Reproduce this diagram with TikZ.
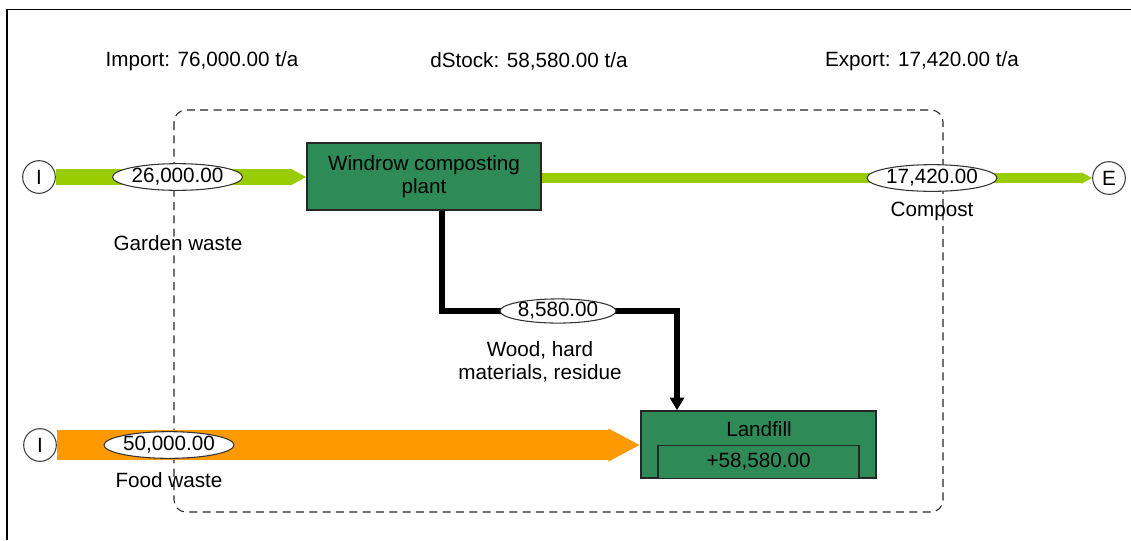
\documentclass[tikz,border=0pt]{standalone}
\usepackage{fontspec}
\setmainfont{Liberation Sans}
\usetikzlibrary{shapes.geometric,arrows.meta,calc}
\definecolor{flowgreen}{HTML}{99CC00}
\definecolor{floworange}{HTML}{FF9900}
\definecolor{procgreen}{HTML}{2E8B57}
\begin{document}
\begin{tikzpicture}[x=0.75pt,y=-0.75pt,font=\fontsize{15.5}{17.5}\selectfont,
  terminal/.style={circle,draw=black!75,line width=0.8pt,fill=white,minimum size=24.5pt,inner sep=0pt},
  flowval/.style={ellipse,draw=black!80,line width=0.8pt,fill=white,inner sep=0pt,minimum width=96pt,minimum height=20pt},
  process/.style={rectangle,draw=black!85,line width=1.1pt,fill=procgreen,inner sep=0pt},
  stockbox/.style={rectangle,draw=black!85,line width=0.9pt,fill=procgreen,inner sep=0pt,minimum width=150.75pt,minimum height=24.75pt},
  boundary/.style={draw=black!85,line width=0.8pt,dash pattern=on 6pt off 4pt,rounded corners=9pt},
  greenflow/.style={draw=flowgreen,line width=#1,-{Triangle[length=#1,width=0pt 1]}},
  orangeflow/.style={draw=floworange,line width=23pt,-{Triangle[length=24pt,width=0pt 1]}},
  woodflow/.style={draw=black,line width=3.8pt,-{Triangle[length=9.5pt,width=10.5pt]}},
  lbl/.style={inner sep=0pt,align=center}
]
\useasboundingbox (0,0) rectangle (1131,540);
\fill[white] (0,0) rectangle (1131,540);
% frame
\draw[line width=1.3pt,black] (7,540) -- (7,9.5) -- (1131,9.5);
% top totals
\node[lbl] (imp) at (202,61) {Import: 76,000.00 t/a};
\node[lbl] (dst) at (529,61) {dStock: 58,580.00 t/a};
\node[lbl] (exp) at (922,61) {Export: 17,420.00 t/a};
% system boundary
\draw[boundary] (174,110) rectangle (943,512);
% terminals
\node[terminal] (i1) at (39,177) {I};
\node[terminal] (i2) at (40,445) {I};
\node[terminal] (e) at (1109,178) {E};
% processes
\node[process,minimum width=175.5pt,minimum height=50.25pt,align=center] (wcp) at (424,176.5) {Windrow composting\\plant};
\node[process,minimum width=176.25pt,minimum height=50.25pt] (lf) at (758.5,444.5) {};
\node[lbl] (lft) at (759,429) {Landfill};
\node[stockbox,anchor=south] (stock) at (lf.south) {+58,580.00};
% flows
\draw[greenflow=12pt] (i1.east) -- (wcp.west |- i1.east);
\draw[greenflow=8pt] (wcp.east |- e.west) -- (e.west);
\draw[orangeflow] (i2.east) -- (lf.west |- i2.east);
\coordinate (wb1) at (442,311);
\coordinate (wb2) at (677,311);
\draw[woodflow] ($(wcp.south)+(18,0)$) -- (wb1) -- (wb2) -- (lf.north -| wb2);
% flow values
\node[flowval] (v1) at (177.5,177) {26,000.00};
\node[flowval] (v2) at (932,178) {17,420.00};
\node[flowval,minimum width=87pt,minimum height=18pt] (v3) at (558,311) {8,580.00};
\node[flowval] (v4) at (169,445) {50,000.00};
% flow names
\node[lbl] (n1) at (178,243) {Garden waste};
\node[lbl] (n2) at (932,211) {Compost};
\node[lbl] (n3) at (540,361.5) {Wood, hard\\materials, residue};
\node[lbl] (n4) at (169,480) {Food waste};
\end{tikzpicture}
\end{document}
